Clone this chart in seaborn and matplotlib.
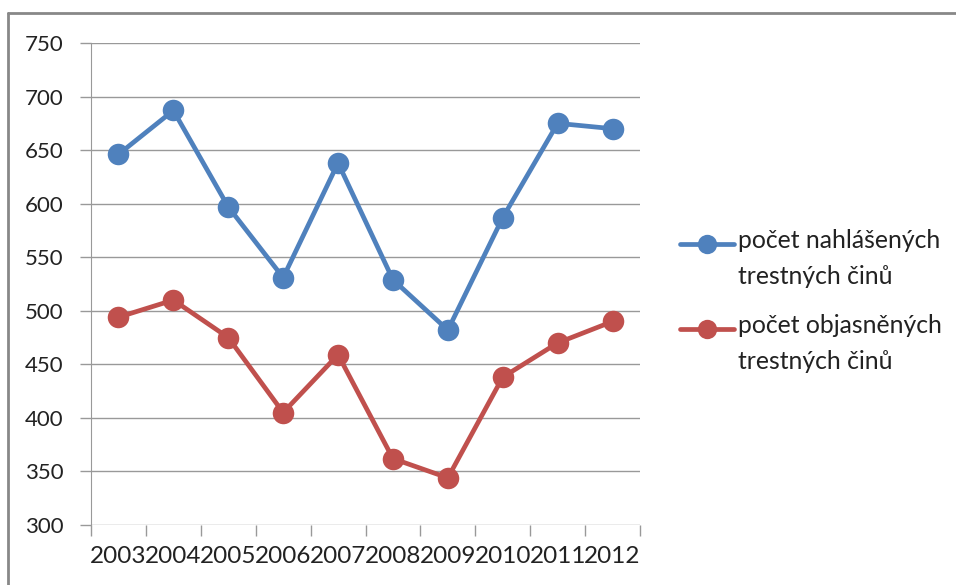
import numpy as np
import pandas as pd
import seaborn as sns
import matplotlib.pyplot as plt
from matplotlib.lines import Line2D
from matplotlib.legend_handler import HandlerLine2D
from matplotlib.ticker import FixedLocator

years = ['2003', '2004', '2005', '2006', '2007', '2008', '2009', '2010', '2011', '2012']
nahlasene = [646, 687, 597, 531, 638, 529, 482, 587, 675, 670]
objasnene = [494, 510, 475, 405, 459, 362, 344, 438, 470, 490]
serie = ['počet nahlášených\ntrestných činů', 'počet objasněných\ntrestných činů']
barvy = ['#4F81BD', '#C0504D']
yticks = [300, 350, 400, 450, 500, 550, 600, 650, 700, 750]

df = pd.DataFrame({
    'rok': years * 2,
    'hodnota': nahlasene + objasnene,
    'serie': [serie[0]] * len(years) + [serie[1]] * len(years),
})


class HandlerTop(HandlerLine2D):
    # legend marker sits next to the first text line, like in Excel
    def __init__(self, shift, **kw):
        super().__init__(**kw)
        self.shift = shift

    def create_artists(self, legend, orig_handle, xdescent, ydescent, width, height, fontsize, trans):
        arts = super().create_artists(legend, orig_handle, xdescent, ydescent, width, height, fontsize, trans)
        for a in arts:
            a.set_ydata(np.asarray(a.get_ydata(), dtype=float) + self.shift)
        return arts


sns.set_style('white')
plt.rcParams['font.family'] = ['Lato', 'DejaVu Sans']

fig = plt.figure(figsize=(9.56, 5.85), dpi=100)
ax = fig.add_axes([91/956, 1-525/585, (640-91)/956, (525-43)/585])

sns.lineplot(data=df, x='rok', y='hodnota', hue='serie', palette=barvy,
             marker='o', markersize=15.5, linewidth=3.4, markeredgewidth=0,
             sort=False, ax=ax)

ax.set_xlim(-0.5, len(years) - 0.5)
ax.set_ylim(300, 750)
ax.set_yticks(yticks)
ax.set_xticks(range(len(years)))
ax.set_xticklabels(years, fontsize=17.5, color='#222222')
ax.xaxis.set_minor_locator(FixedLocator([i - 0.5 for i in range(len(years) + 1)]))
ax.tick_params(axis='x', which='major', length=0, pad=15)
ax.tick_params(axis='x', which='minor', length=8, color='#999999', width=1, direction='out', bottom=True)
ax.tick_params(axis='y', length=8, color='#999999', width=1, direction='out', left=True,
               labelsize=16, labelcolor='#222222', pad=12)
ax.grid(axis='y', color='#999999', linewidth=1)
ax.set_axisbelow(True)
for s in ['top', 'right']:
    ax.spines[s].set_visible(False)
ax.spines['left'].set_color('#999999')
ax.spines['bottom'].set_visible(False)
ax.set_xlabel(None)
ax.set_ylabel(None)

leg = ax.legend(title=None, loc='center left', bbox_to_anchor=(1.032, 0.465), frameon=False,
                fontsize=17.8, handlelength=2.2, handletextpad=0.15, labelspacing=1.05,
                labelcolor='#222222', markerscale=0.9,
                handler_map={Line2D: HandlerTop(shift=11.0)})
for t in leg.get_texts():
    t.set_linespacing(1.68)

# outer chart frame (only top and left visible)
fig.add_artist(Line2D([8/956, 1], [1-13/585, 1-13/585], color='#888888', linewidth=2))
fig.add_artist(Line2D([8/956, 8/956], [0, 1-13/585], color='#888888', linewidth=2))

fig.savefig('out.png', dpi=100)
